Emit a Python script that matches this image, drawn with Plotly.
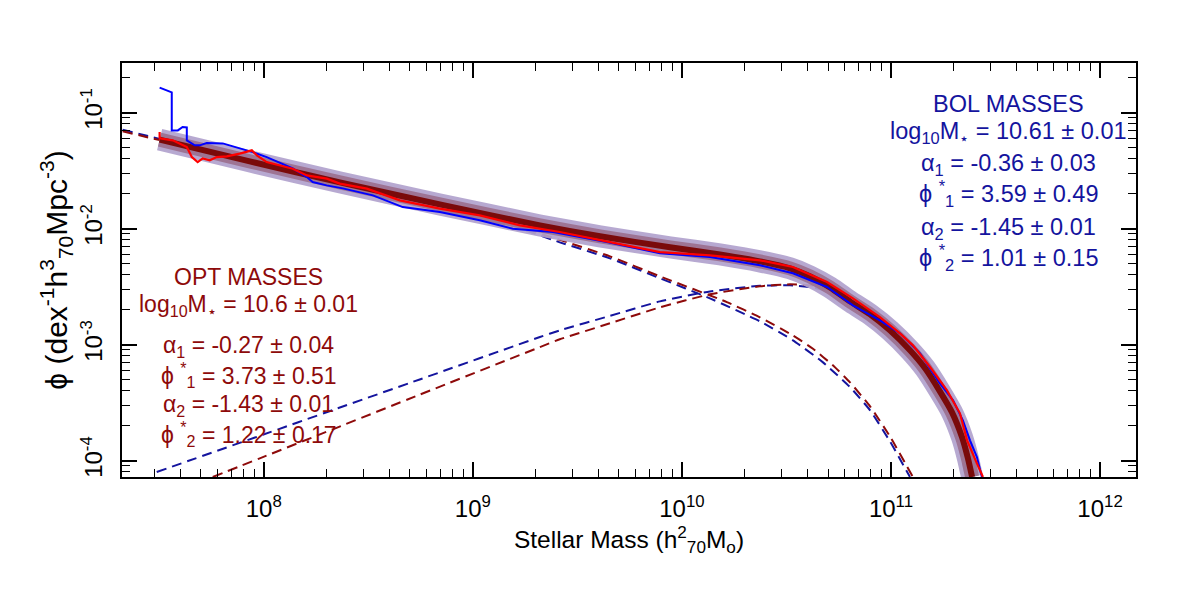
import plotly.graph_objects as go

# ---------------- data (log10 stellar mass, log10 phi) ----------------
bol_data_logm = [7.502, 7.541, 7.560, 7.560, 7.589, 7.612, 7.632, 7.632, 7.670, 7.694, 7.727, 7.804,
                 7.947, 8.014, 8.139, 8.206, 8.234, 8.301, 8.378, 8.522, 8.665, 8.842, 9.033, 9.191,
                 9.383, 9.641, 9.895, 10.134, 10.373, 10.531, 10.694, 10.818, 10.947, 11.043, 11.139,
                 11.234, 11.297, 11.344, 11.378, 11.411, 11.435]
bol_data_logphi = [-0.784, -0.808, -0.825, -1.153, -1.153, -1.124, -1.127, -1.239, -1.282, -1.282, -1.262, -1.265,
                   -1.340, -1.383, -1.480, -1.555, -1.598, -1.627, -1.653, -1.713, -1.814, -1.857, -1.928, -2.000,
                   -2.029, -2.116, -2.213, -2.245, -2.316, -2.385, -2.503, -2.661, -2.791, -2.903, -3.075,
                   -3.334, -3.480, -3.653, -3.825, -3.969, -4.141]

opt_data_logm = [7.502, 7.502, 7.565, 7.632, 7.656, 7.684, 7.708, 7.742, 7.775, 7.823, 7.885, 7.943, 7.967,
                 8.014, 8.139, 8.206, 8.301, 8.364, 8.493, 8.651, 8.842, 9.033, 9.225, 9.416, 9.656, 9.895,
                 10.134, 10.373, 10.531, 10.694, 10.818, 10.947, 11.043, 11.105, 11.187, 11.268, 11.330,
                 11.364, 11.411, 11.440]
opt_data_logphi = [-1.167, -1.222, -1.239, -1.297, -1.383, -1.426, -1.394, -1.411, -1.383, -1.377, -1.353, -1.325, -1.368,
                   -1.426, -1.483, -1.541, -1.569, -1.612, -1.655, -1.756, -1.828, -1.885, -1.972, -2.029, -2.116, -2.202,
                   -2.230, -2.273, -2.331, -2.460, -2.601, -2.762, -2.903, -3.006, -3.193, -3.394, -3.592,
                   -3.825, -4.023, -4.141]

fit_logm = [7.502, 7.933, 8.364, 8.842, 9.321, 9.608, 9.943, 10.182, 10.373, 10.517, 10.612, 10.708,
            10.804, 10.900, 10.995, 11.091, 11.163, 11.234, 11.292, 11.340, 11.368, 11.388]
fit_logphi = [-1.233, -1.420, -1.601, -1.791, -1.972, -2.066, -2.161, -2.222, -2.282, -2.342, -2.411, -2.506,
              -2.627, -2.739, -2.877, -3.049, -3.204, -3.403, -3.584, -3.799, -3.980, -4.141]

bol_low_logm = [7.325, 7.502, 8.364, 9.258, 9.416, 9.656, 9.895, 10.134, 10.373, 10.531, 10.675, 10.804,
                10.900, 10.995, 11.091]
bol_low_logphi = [-1.147, -1.226, -1.614, -2.019, -2.118, -2.256, -2.428, -2.601, -2.799, -2.963, -3.153, -3.366,
                  -3.566, -3.834, -4.141]

opt_low_logm = [7.325, 7.502, 8.364, 9.129, 9.416, 9.656, 9.895, 10.215, 10.373, 10.531, 10.627, 10.722,
                10.804, 10.900, 10.995, 11.105]
opt_low_logphi = [-1.161, -1.237, -1.608, -1.937, -2.097, -2.239, -2.411, -2.633, -2.765, -2.920, -3.036, -3.178,
                  -3.325, -3.532, -3.791, -4.141]

bol_high_logm = [7.488, 7.995, 8.330, 8.746, 9.321, 9.416, 9.656, 9.895, 10.134, 10.373, 10.517, 10.636,
                 10.756, 10.852, 10.947, 11.043, 11.139, 11.211, 11.273, 11.321, 11.359]
bol_high_logphi = [-4.098, -3.777, -3.564, -3.300, -2.934, -2.877, -2.752, -2.627, -2.541, -2.493, -2.489, -2.510,
                   -2.584, -2.678, -2.808, -3.006, -3.204, -3.411, -3.627, -3.851, -4.141]

opt_high_logm = [7.756, 7.981, 8.330, 8.746, 9.321, 9.416, 9.656, 9.895, 10.134, 10.373, 10.517, 10.636,
                 10.770, 10.876, 10.971, 11.067, 11.163, 11.234, 11.292, 11.335, 11.368]
opt_high_logphi = [-4.141, -3.980, -3.730, -3.431, -3.021, -2.954, -2.816, -2.678, -2.566, -2.497, -2.480, -2.493,
                   -2.558, -2.670, -2.808, -2.997, -3.222, -3.420, -3.627, -3.842, -4.141]

x_major = [1e8, 1e9, 1e10, 1e11, 1e12]
x_major_text = ["10<sup>8</sup>", "10<sup>9</sup>", "10<sup>10</sup>", "10<sup>11</sup>", "10<sup>12</sup>"]
y_major = [1e-4, 1e-3, 1e-2, 1e-1]
y_major_text = ["10<sup>-4</sup>", "10<sup>-3</sup>", "10<sup>-2</sup>", "10<sup>-1</sup>"]

bol_lines = ["BOL MASSES",
             "log<sub>10</sub>M<sub>⋆</sub> = 10.61 ± 0.01",
             "α<sub>1</sub> = -0.36 ± 0.03",
             "ϕ <sup>*</sup><sub>1</sub> = 3.59 ± 0.49",
             "α<sub>2</sub> = -1.45 ± 0.01",
             "ϕ <sup>*</sup><sub>2</sub> = 1.01 ± 0.15"]
opt_lines = ["OPT MASSES",
             "log<sub>10</sub>M<sub>⋆</sub> = 10.6 ± 0.01",
             "α<sub>1</sub> = -0.27 ± 0.04",
             "ϕ <sup>*</sup><sub>1</sub> = 3.73 ± 0.51",
             "α<sub>2</sub> = -1.43 ± 0.01",
             "ϕ <sup>*</sup><sub>2</sub> = 1.22 ± 0.17"]

# ---------------- figure ----------------
def lin(v):
    return [10 ** a for a in v]

FONT = "Liberation Sans, Arial, Helvetica, sans-serif"
DBLUE = "#14149e"
DRED = "#8e0a0a"

fig = go.Figure()
dash = "10px,6px"
for xs, ys, col in [(bol_low_logm, bol_low_logphi, DBLUE), (opt_low_logm, opt_low_logphi, DRED),
                    (bol_high_logm, bol_high_logphi, DBLUE), (opt_high_logm, opt_high_logphi, DRED)]:
    fig.add_trace(go.Scatter(x=lin(xs), y=lin(ys), mode="lines",
                             line=dict(color=col, width=2, dash=dash, shape="spline", smoothing=0.5),
                             hoverinfo="skip"))

# uncertainty bands (thick strokes) and central fit
for col, w in [("rgba(178,162,205,0.93)", 22), ("rgba(155,112,142,0.92)", 14), ("#7a0a0a", 6)]:
    fig.add_trace(go.Scatter(x=lin(fit_logm), y=lin(fit_logphi), mode="lines",
                             line=dict(color=col, width=w, shape="spline", smoothing=0.6),
                             hoverinfo="skip"))

fig.add_trace(go.Scatter(x=lin(bol_data_logm), y=lin(bol_data_logphi), mode="lines",
                         line=dict(color="#0000ff", width=2), hoverinfo="skip"))
fig.add_trace(go.Scatter(x=lin(opt_data_logm), y=lin(opt_data_logphi), mode="lines",
                         line=dict(color="#ff0000", width=2.2), hoverinfo="skip"))

x_minor = [m * 10 ** e for e in range(7, 13) for m in range(2, 10)]
y_minor = [m * 10.0 ** e for e in range(-5, 0) for m in range(2, 10)]

axis_common = dict(type="log", showline=True, linecolor="black", linewidth=2, mirror="ticks",
                   ticks="inside", ticklen=15, tickwidth=1.6, tickcolor="black", showgrid=False,
                   zeroline=False, tickfont=dict(family=FONT, size=24, color="black"))

fig.update_xaxes(**axis_common, range=[7.322, 12.172], tickmode="array", tickvals=x_major,
                 ticktext=x_major_text, ticklabelstandoff=9,
                 minor=dict(tickmode="array", tickvals=x_minor, ticks="inside", ticklen=8,
                            tickwidth=1.4, tickcolor="black", showgrid=False),
                 title=dict(text="Stellar Mass (h<sup>2</sup><sub>70</sub>M<sub>o</sub>)",
                            font=dict(family=FONT, size=24.5, color="black"), standoff=8))
fig.update_yaxes(**axis_common, range=[-4.141, -0.572], tickmode="array", tickvals=y_major,
                 ticktext=y_major_text, tickangle=-90, ticklabelstandoff=8,
                 minor=dict(tickmode="array", tickvals=y_minor, ticks="inside", ticklen=8,
                            tickwidth=1.4, tickcolor="black", showgrid=False),
                 title=dict(text="ϕ (dex<sup>-1</sup>h<sup>3</sup><sub>70</sub>Mpc<sup>-3</sup>)",
                            font=dict(family=FONT, size=30, color="black"), standoff=0))

bol_y = [0.900, 0.833, 0.755, 0.685, 0.601, 0.531]
opt_y = [0.483, 0.415, 0.316, 0.246, 0.172, 0.104]
for txt, yy in zip(bol_lines, bol_y):
    fig.add_annotation(text=txt, x=0.874, y=yy, xref="paper", yref="paper", showarrow=False,
                       xanchor="center", yanchor="middle", font=dict(family=FONT, size=23.5, color=DBLUE))
for txt, yy in zip(opt_lines, opt_y):
    fig.add_annotation(text=txt, x=0.125, y=yy, xref="paper", yref="paper", showarrow=False,
                       xanchor="center", yanchor="middle", font=dict(family=FONT, size=23, color=DRED))

fig.update_layout(width=1200, height=600, margin=dict(l=122, r=64, t=63, b=123),
                  paper_bgcolor="white", plot_bgcolor="white", showlegend=False,
                  font=dict(family=FONT))

fig.write_html("out.html")
